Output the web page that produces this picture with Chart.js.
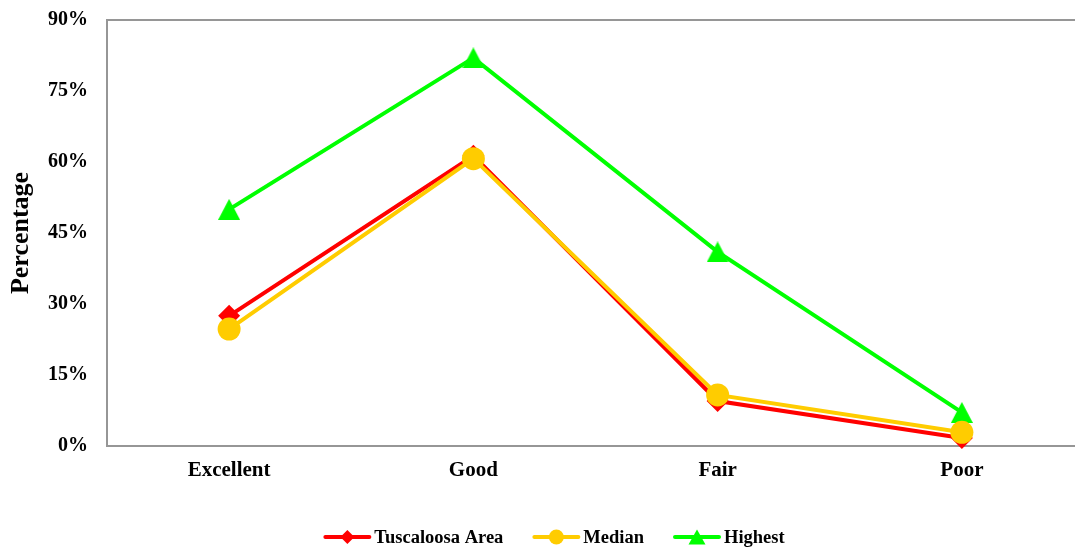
<!DOCTYPE html>
<html>
<head>
<meta charset="utf-8">
<script src="https://cdn.jsdelivr.net/npm/chart.js@4"></script>
<style>
  html, body { margin: 0; padding: 0; background: #fff; overflow: hidden; }
  #wrap { width: 1100px; height: 551px; }
</style>
</head>
<body>
<div id="wrap"><canvas id="chart" width="1100" height="551"></canvas></div>
<script>
// Ratings shares, in percent
const categories = ['Excellent', 'Good', 'Fair', 'Poor'];
const tuscaloosaArea = [27.5, 61.3, 9.5, 1.7];
const median = [24.7, 60.7, 10.8, 2.9];
const highest = [50, 82, 41, 7.1];
const yTicks = [0, 15, 30, 45, 60, 75, 90];

const SERIF = '"Liberation Serif", "Times New Roman", serif';
const RED = '#FF0000';
const GOLD = '#FFCC00';
const GREEN = '#00FF00';
const FRAME = '#969696';

// Triangle marker centred on its bounding box
function triangleMarker(w, h, color) {
  const c = document.createElement('canvas');
  c.width = w; c.height = h;
  const g = c.getContext('2d');
  g.fillStyle = color;
  g.beginPath();
  g.moveTo(w / 2, 0);
  g.lineTo(w, h);
  g.lineTo(0, h);
  g.closePath();
  g.fill();
  return c;
}

// Frame around the plot area
const plotFrame = {
  id: 'plotFrame',
  beforeDatasetsDraw(chart) {
    const { ctx, chartArea: a } = chart;
    ctx.save();
    ctx.strokeStyle = FRAME;
    ctx.lineWidth = 2;
    ctx.strokeRect(a.left, a.top, a.right - a.left, a.bottom - a.top);
    ctx.restore();
  }
};

// Legend: line with marker, then bold label
const lineLegend = {
  id: 'lineLegend',
  afterDraw(chart) {
    const ctx = chart.ctx;
    const y = 537;
    const lineLen = 48, gapText = 3, gapItem = 29;
    ctx.save();
    ctx.font = 'bold 18.5px ' + SERIF;
    const items = chart.data.datasets.map(ds => ({
      ds, w: lineLen + gapText + ctx.measureText(ds.label).width
    }));
    const total = items.reduce((s, it) => s + it.w, 0) + gapItem * (items.length - 1);
    let x = chart.width / 2 + 4 - total / 2;
    items.forEach(({ ds, w }) => {
      const color = ds.borderColor;
      ctx.strokeStyle = color;
      ctx.lineWidth = 4;
      ctx.lineCap = 'round';
      ctx.beginPath();
      ctx.moveTo(x + 2, y);
      ctx.lineTo(x + lineLen - 2, y);
      ctx.stroke();
      const mx = x + lineLen / 2;
      ctx.fillStyle = color;
      ctx.beginPath();
      if (ds.legendMarker === 'diamond') {
        const r = 7;
        ctx.moveTo(mx, y - r); ctx.lineTo(mx + r, y); ctx.lineTo(mx, y + r); ctx.lineTo(mx - r, y);
        ctx.closePath();
      } else if (ds.legendMarker === 'circle') {
        ctx.arc(mx, y, 7.5, 0, Math.PI * 2);
      } else {
        const tw = 17, th = 15;
        ctx.moveTo(mx, y - th / 2); ctx.lineTo(mx + tw / 2, y + th / 2); ctx.lineTo(mx - tw / 2, y + th / 2);
        ctx.closePath();
      }
      ctx.fill();
      ctx.fillStyle = '#000';
      ctx.textBaseline = 'middle';
      ctx.textAlign = 'left';
      ctx.fillText(ds.label, x + lineLen + gapText, y + 1);
      x += w + gapItem;
    });
    ctx.restore();
  }
};

new Chart(document.getElementById('chart'), {
  type: 'line',
  data: {
    labels: categories,
    datasets: [
      {
        label: 'Tuscaloosa Area',
        data: tuscaloosaArea,
        borderColor: RED,
        backgroundColor: RED,
        borderWidth: 4,
        pointStyle: 'rectRot',
        pointRadius: 11,
        pointBorderWidth: 0,
        pointBackgroundColor: RED,
        legendMarker: 'diamond',
        order: 2,
        clip: false
      },
      {
        label: 'Median',
        data: median,
        borderColor: GOLD,
        backgroundColor: GOLD,
        borderWidth: 4,
        pointStyle: 'circle',
        pointRadius: 11.5,
        pointBorderWidth: 0,
        pointBackgroundColor: GOLD,
        legendMarker: 'circle',
        order: 1,
        clip: false
      },
      {
        label: 'Highest',
        data: highest,
        borderColor: GREEN,
        backgroundColor: GREEN,
        borderWidth: 4,
        pointStyle: triangleMarker(22, 21, GREEN),
        pointRadius: 11,
        legendMarker: 'triangle',
        order: 3,
        clip: false
      }
    ]
  },
  options: {
    responsive: false,
    animation: false,
    events: [],
    layout: { padding: { top: 20, right: 16, bottom: 0, left: 0 } },
    elements: { line: { tension: 0 } },
    plugins: {
      legend: { display: false },
      tooltip: { enabled: false }
    },
    scales: {
      x: {
        offset: true,
        grid: { display: false, drawTicks: false },
        border: { display: false },
        ticks: {
          color: '#000',
          font: { family: SERIF, size: 21, weight: 'bold' },
          padding: 12,
          maxRotation: 0
        },
        afterFit(scale) {
          scale.height = 105;
          scale.paddingLeft = 0;
          scale.paddingRight = 0;
        }
      },
      y: {
        min: 0,
        max: 90,
        grid: { display: false, drawTicks: false },
        border: { display: false },
        afterBuildTicks(scale) { scale.ticks = yTicks.map(v => ({ value: v })); },
        ticks: {
          color: '#000',
          font: { family: SERIF, size: 20, weight: 'bold' },
          padding: 19,
          callback: v => v + '%'
        },
        title: {
          display: true,
          text: 'Percentage',
          color: '#000',
          font: { family: SERIF, size: 26, weight: 'bold' },
          padding: { top: 6, bottom: 0 }
        },
        afterFit(scale) {
          scale.width = 107;
          scale.paddingTop = 0;
          scale.paddingBottom = 0;
        }
      }
    }
  },
  plugins: [plotFrame, lineLegend]
});
</script>
</body>
</html>
